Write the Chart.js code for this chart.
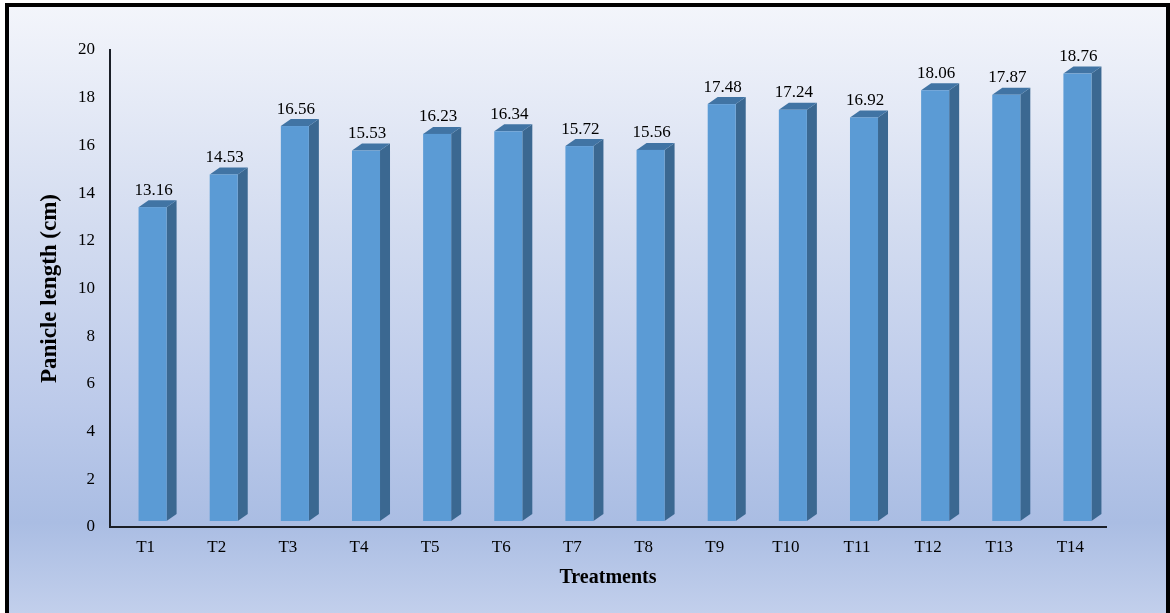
<!DOCTYPE html>
<html>
<head>
<meta charset="utf-8">
<script src="https://cdn.jsdelivr.net/npm/chart.js@4/dist/chart.umd.min.js"></script>
<style>
  html, body { margin: 0; padding: 0; width: 1170px; height: 613px; overflow: hidden; background: #fff; }
  #frame {
    position: absolute; left: 5px; top: 3px; width: 1165px; height: 640px;
    box-sizing: border-box; border: 4px solid #000; border-bottom: none;
    background: linear-gradient(to bottom, #f3f5fb 0px, #d3dcf0 220px, #bccaea 400px, #aabde3 515px, #c3d0ec 610px);
  }
  #chart { position: absolute; left: 0; top: 0; }
</style>
</head>
<body>
<div id="frame"></div>
<canvas id="chart" width="1170" height="613"></canvas>
<script>
const treatments = ['T1', 'T2', 'T3', 'T4', 'T5', 'T6', 'T7', 'T8', 'T9', 'T10', 'T11', 'T12', 'T13', 'T14'];
const panicleLength = [13.16, 14.53, 16.56, 15.53, 16.23, 16.34, 15.72, 15.56, 17.48, 17.24, 16.92, 18.06, 17.87, 18.76];
const yTicks = { min: 0, max: 20, step: 2 };

// fake 3D box: front face shifted onto the raised floor, plus side and top faces
const SHIFT_X = 7;
const SHIFT_Y = -6;
const DEPTH_X = 10;
const DEPTH_Y = -7;

const boxBars = {
  id: 'boxBars',
  afterDatasetsDraw(chart) {
    const { ctx } = chart;
    const meta = chart.getDatasetMeta(0);
    const values = chart.data.datasets[0].data;
    ctx.save();
    meta.data.forEach((bar, i) => {
      const { x, y, base, width } = bar.getProps(['x', 'y', 'base', 'width'], true);
      const left = x + SHIFT_X - width / 2;
      const right = x + SHIFT_X + width / 2;
      const top = y + SHIFT_Y;
      const bottom = base + SHIFT_Y;

      // side
      ctx.fillStyle = '#3b6891';
      ctx.beginPath();
      ctx.moveTo(right, top);
      ctx.lineTo(right + DEPTH_X, top + DEPTH_Y);
      ctx.lineTo(right + DEPTH_X, bottom + DEPTH_Y);
      ctx.lineTo(right, bottom);
      ctx.closePath();
      ctx.fill();

      // top
      ctx.fillStyle = '#4174a4';
      ctx.beginPath();
      ctx.moveTo(left, top);
      ctx.lineTo(left + DEPTH_X, top + DEPTH_Y);
      ctx.lineTo(right + DEPTH_X, top + DEPTH_Y);
      ctx.lineTo(right, top);
      ctx.closePath();
      ctx.fill();

      // front
      ctx.fillStyle = '#5b9bd5';
      ctx.fillRect(left, top, right - left, bottom - top);

      // value label
      ctx.fillStyle = '#000';
      ctx.font = '17px "Liberation Serif", "Times New Roman", serif';
      ctx.textAlign = 'center';
      ctx.textBaseline = 'middle';
      ctx.fillText(values[i].toFixed(2), x + SHIFT_X + 1, top - 17);
    });
    ctx.restore();
  }
};

const serif = '"Liberation Serif", "Times New Roman", serif';

new Chart(document.getElementById('chart'), {
  type: 'bar',
  data: {
    labels: treatments,
    datasets: [{
      label: 'Panicle length (cm)',
      data: panicleLength,
      backgroundColor: 'rgba(0,0,0,0)',
      borderWidth: 0,
      categoryPercentage: 1,
      barPercentage: 0.394,
    }],
  },
  options: {
    responsive: false,
    animation: false,
    layout: { padding: { top: 50, right: 64, bottom: 0, left: 0 } },
    plugins: {
      legend: { display: false },
      tooltip: { enabled: false },
    },
    scales: {
      x: {
        grid: { display: false, drawTicks: false },
        border: { display: true, color: '#1b1f27', width: 2 },
        ticks: { color: '#000', font: { family: serif, size: 17 }, padding: 10 },
        title: {
          display: true,
          text: 'Treatments',
          color: '#000',
          font: { family: serif, size: 20, weight: 'bold' },
          padding: { top: 0, bottom: 23 },
        },
        afterFit(scale) { scale.height = 86; },
      },
      y: {
        min: yTicks.min,
        max: yTicks.max,
        grid: { display: false, drawTicks: false },
        border: { display: true, color: '#1b1f27', width: 2 },
        ticks: { stepSize: yTicks.step, color: '#000', font: { family: serif, size: 17 }, padding: 15 },
        title: {
          display: true,
          text: 'Panicle length (cm)',
          color: '#000',
          font: { family: serif, size: 23, weight: 'bold' },
          padding: { top: 36, bottom: 0 },
        },
        afterFit(scale) { scale.width = 110; },
      },
    },
  },
  plugins: [boxBars],
});
</script>
</body>
</html>
